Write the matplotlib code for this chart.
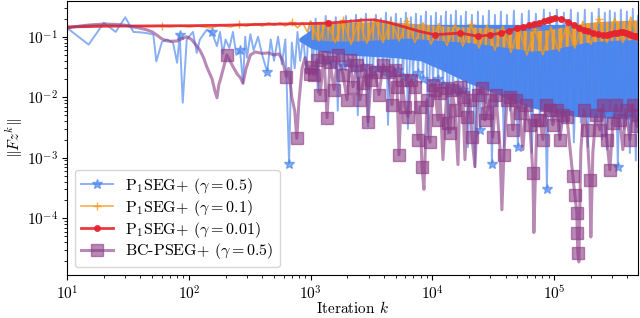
import numpy as np
import matplotlib
matplotlib.use('Agg')
import matplotlib.pyplot as plt

# computer-modern look, like the LaTeX figure
plt.rcParams['font.family'] = 'serif'
plt.rcParams['font.serif'] = ['cmr10']
plt.rcParams['mathtext.fontset'] = 'cm'
plt.rcParams['axes.formatter.use_mathtext'] = True

# ---- P1SEG+ (gamma = 0.5) ----
blue_k = [10, 15, 20, 25, 30, 35, 40, 45, 51, 54, 60, 66, 74, 80, 84, 89, 96, 108, 116, 123,
          140, 154, 170, 180, 190, 200, 215, 230, 245, 263, 278, 290, 300, 320, 340, 370, 400,
          440, 470, 500, 540, 580, 620, 665, 700, 740, 780, 820, 870, 920, 960,
          1000, 1039, 1100, 1143, 1210, 1255, 1330, 1380, 1460, 1515, 1610, 1670, 1770, 1840,
          1950, 2020, 2140, 2220, 2360, 2440, 2590, 2690, 2850, 2960, 3130, 3250, 3440, 3570,
          3780, 3930, 4160, 4320, 4570, 4750, 5020, 5220, 5510, 5730, 6070, 6300, 6670, 6930,
          7330, 7620, 8060, 8380, 8860, 9210, 9740, 10120, 10700, 11120, 11770, 12220, 12930,
          13440, 14210, 14770, 15620, 16230, 17170, 17840, 18870, 19610, 21140, 22380, 23690,
          24620, 26040, 27560, 29160, 30860, 32650, 34550, 36560, 38710, 40980, 43370, 46770,
          50420, 54380, 57560, 62060, 65680, 70830, 76460, 82440, 87250, 92370, 97750, 105440,
          111580, 120300, 127370, 137400, 145400, 156800, 166000, 179000, 189500, 204300,
          216300, 233200, 246900, 261300, 271300, 287200, 298000, 315600, 334100, 353700,
          374400, 396400, 419200, 443600, 469600, 488000]
blue_v = [0.139, 0.074, 0.17, 0.12, 0.21, 0.12, 0.118, 0.115, 0.108, 0.039, 0.082, 0.09, 0.08,
          0.037, 0.108, 0.0081, 0.09, 0.12, 0.054, 0.09, 0.13, 0.12, 0.07, 0.12, 0.052, 0.09,
          0.065, 0.12, 0.05, 0.061, 0.017, 0.1, 0.045, 0.11, 0.06, 0.1, 0.05, 0.026, 0.09, 0.04,
          0.1, 0.035, 0.09, 0.0008, 0.08, 0.03, 0.12, 0.04, 0.1, 0.025, 0.13,
          0.18, 0.03, 0.2, 0.012, 0.17, 0.035, 0.22, 0.04, 0.18, 0.035, 0.21, 0.006, 0.17, 0.033,
          0.22, 0.038, 0.19, 0.03, 0.23, 0.005, 0.2, 0.032, 0.24, 0.0033, 0.19, 0.028, 0.23,
          0.03, 0.2, 0.026, 0.25, 0.0035, 0.21, 0.025, 0.24, 0.028, 0.2, 0.022, 0.25, 0.003,
          0.21, 0.022, 0.24, 0.025, 0.22, 0.02, 0.26, 0.002, 0.22, 0.018, 0.25, 0.02, 0.22,
          0.016, 0.26, 0.0025, 0.23, 0.014, 0.27, 0.012, 0.22, 0.013, 0.26, 0.0015, 0.23, 0.0007,
          0.26, 0.0029, 0.22, 0.008, 0.27, 0.0008, 0.23, 0.007, 0.26, 0.0015, 0.23, 0.006, 0.27,
          0.0015, 0.24, 0.005, 0.27, 0.0012, 0.24, 0.0045, 0.28, 0.0003, 0.25, 0.004, 0.28,
          0.002, 0.25, 0.0038, 0.28, 0.0018, 0.25, 0.0038, 0.28, 0.0015, 0.25, 0.0035, 0.29,
          0.002, 0.25, 0.00136, 0.27, 0.0035, 0.25, 0.0007, 0.28, 0.003, 0.26, 0.0012, 0.29,
          0.0009, 0.22]
blue_star_k = [84, 154, 263, 440, 665, 1380, 1515, 1840, 2020, 2220, 2690, 3250, 3570, 3930,
               4750, 5220, 5730, 6930, 7620, 8380, 10120, 11120, 12220, 14770, 16230, 17840,
               24620, 30860, 50420, 87250, 334100]
# solid core of the blue noise band
blue_band_k = [800, 1000, 1300, 2000, 5000, 8000, 12000, 20000, 35000, 60000, 100000, 150000,
               488000]
blue_band_lo = [0.085, 0.065, 0.055, 0.05, 0.045, 0.04, 0.028, 0.017, 0.011, 0.007, 0.0055,
                0.0048, 0.0043]
blue_band_hi = [0.095, 0.13, 0.16, 0.16, 0.16, 0.16, 0.16, 0.16, 0.16, 0.16, 0.16, 0.16, 0.16]

# ---- P1SEG+ (gamma = 0.1) ----
orange_k = [10, 12, 15, 20, 25, 30, 40, 50, 60, 70, 85, 100, 120, 150, 180, 220, 260, 300,
            350, 400, 450, 500, 560, 620, 700, 780, 860, 940,
            1000, 1170, 1360, 1590, 1840, 2150, 2490, 2900, 3380, 3930, 4570, 5320, 6190, 7200,
            8380, 9740, 11330, 13180, 15330, 17840, 20760, 24140, 28080, 32650, 37990, 44180,
            51390, 59780, 69530, 80910, 94100, 109500, 127400, 148200, 172400, 200500, 233200,
            271300, 315600, 367200, 427100, 488000]
orange_v = [0.14, 0.15, 0.155, 0.158, 0.155, 0.15, 0.148, 0.147, 0.15, 0.145, 0.152, 0.145,
            0.15, 0.14, 0.155, 0.145, 0.16, 0.15, 0.165, 0.15, 0.17, 0.155, 0.17, 0.15, 0.175,
            0.14, 0.17, 0.12,
            0.18, 0.085, 0.185, 0.08, 0.19, 0.075, 0.19, 0.078, 0.2, 0.08, 0.19, 0.085, 0.18,
            0.08, 0.17, 0.075, 0.165, 0.072, 0.16, 0.07, 0.16, 0.065, 0.155, 0.06, 0.15, 0.055,
            0.14, 0.05, 0.135, 0.05, 0.145, 0.058, 0.16, 0.065, 0.18, 0.075, 0.2, 0.08, 0.2,
            0.08, 0.21, 0.085]
orange_band_k = [1000, 1500, 2500, 4000, 6000, 9000, 13000, 20000, 30000, 45000, 65000,
                 90000, 130000, 180000, 250000, 350000, 488000]
orange_band_lo = [0.09, 0.085, 0.085, 0.09, 0.095, 0.09, 0.085, 0.08, 0.072, 0.065, 0.058,
                  0.06, 0.07, 0.08, 0.085, 0.088, 0.09]
orange_band_hi = [0.17, 0.17, 0.175, 0.18, 0.17, 0.16, 0.15, 0.145, 0.14, 0.13, 0.125, 0.13,
                  0.15, 0.17, 0.18, 0.185, 0.19]

# ---- P1SEG+ (gamma = 0.01) ----
red_k = [10, 15, 20, 30, 50, 100, 200, 400, 700, 1000, 1400, 2000, 2700, 3300, 4200, 5700,
         7900, 10500, 17000, 23500, 30000, 36500, 43000, 49500, 56000, 62500, 69000, 75500,
         82000, 88500, 95000, 101500, 115000, 130000, 145000, 160000, 175000, 190000, 210000,
         230000, 250000, 270000, 290000, 310000, 330000, 350000, 370000, 390000, 410000,
         430000, 450000, 470000, 490000]
red_v = [0.145, 0.147, 0.149, 0.15, 0.151, 0.152, 0.155, 0.16, 0.163, 0.165, 0.168, 0.178,
         0.188, 0.19, 0.175, 0.148, 0.122, 0.108, 0.115, 0.102, 0.107, 0.115, 0.126, 0.138,
         0.147, 0.156, 0.163, 0.17, 0.18, 0.188, 0.197, 0.202, 0.2, 0.178, 0.158, 0.142, 0.13,
         0.122, 0.114, 0.109, 0.107, 0.108, 0.111, 0.114, 0.117, 0.12, 0.119, 0.115, 0.111,
         0.107, 0.104, 0.102, 0.1]

# ---- BC-PSEG+ (gamma = 0.5) ----
purple_k = [10, 12, 15, 20, 25, 30, 35, 40, 45, 50, 55, 60, 65, 70, 80, 90, 96, 105, 115, 123,
            132, 140, 155, 163, 170, 176, 182, 192, 205, 215, 230, 250, 265, 278, 295, 320,
            350, 400, 450, 500, 550, 590, 630, 660, 700, 740, 770, 800, 850, 900, 980,
            1000, 1066, 1128, 1195, 1288, 1364, 1443, 1557, 1679, 1845, 1990, 2106, 2229,
            2404, 2544, 2693, 2850, 2960, 3133, 3379, 3644, 3930, 4320, 4659, 4931, 5122,
            5319, 5628, 5957, 6305, 6673, 7197, 7617, 7911, 8214, 8531, 9030, 9557, 10114,
            10504, 11117, 11546, 12218, 13183, 13435, 13952, 14490, 15335, 16232, 16854,
            17838, 18520, 19235, 20358, 21141, 22380, 23685, 25545, 27036, 28077, 29719,
            31451, 33293, 35892, 37275, 38708, 40978, 43367, 45894, 48584, 52395, 55442,
            58680, 63295, 66983, 68272, 72245, 76456, 80909, 85650, 92366, 97748, 105440,
            111580, 118090, 127370, 134800, 142700, 148200, 153900, 155000, 156800, 159800,
            166000, 175600, 185900, 196800, 200500, 208200, 220400, 237700, 251600, 271300,
            287200, 304000, 321800, 347000, 367200, 388700, 419200, 443600, 478500, 488000]
purple_v = [0.14, 0.148, 0.156, 0.162, 0.16, 0.155, 0.145, 0.138, 0.13, 0.12, 0.105, 0.092,
            0.086, 0.084, 0.085, 0.095, 0.1, 0.09, 0.072, 0.06, 0.045, 0.032, 0.02, 0.013,
            0.0098, 0.016, 0.02, 0.03, 0.05, 0.042, 0.032, 0.024, 0.021, 0.017, 0.03, 0.05,
            0.056, 0.053, 0.054, 0.05, 0.052, 0.04, 0.022, 0.03, 0.01, 0.006, 0.0021, 0.008,
            0.03, 0.045, 0.024,
            0.032, 0.0236, 0.0417, 0.011, 0.0467, 0.0046, 0.0386, 0.0133, 0.0504, 0.0236,
            0.0091, 0.0417, 0.0149, 0.0344, 0.0091, 0.0174, 0.0285, 0.0039, 0.0195, 0.0264,
            0.011, 0.0344, 0.0264, 0.0075, 0.0285, 0.0149, 0.00112, 0.0195, 0.007, 0.0048,
            0.0195, 0.0149, 0.002, 0.007, 0.00071, 0.0003, 0.0091, 0.0018, 0.0161, 0.0133,
            0.0042, 0.0119, 0.00093, 0.0144, 0.0038, 0.0026, 0.0133, 0.0062, 0.00077, 0.0149,
            0.0102, 0.00093, 0.0048, 0.0091, 0.0022, 0.00071, 0.011, 0.0144, 0.0042, 0.0055,
            0.0091, 0.0022, 0.011, 0.0015, 0.000138, 0.00112, 0.0091, 0.0102, 0.0029, 0.0091,
            0.0055, 0.00136, 0.0075, 0.0035, 0.00056, 5.8e-5, 0.0042, 0.0042, 0.002, 0.0075,
            0.0062, 0.0035, 0.0062, 0.002, 0.0051, 0.0048, 0.0015, 0.00049, 0.00024, 0.000123,
            5.8e-5, 2.7e-5, 1.9e-5, 0.00136, 0.0062, 0.0029, 0.00043, 4.9e-5, 0.00121, 0.0051,
            0.0029, 0.0075, 0.002, 0.00063, 0.0038, 0.0075, 0.0042, 0.00136, 0.0062, 0.002,
            0.0075, 0.0033, 0.005]
# squares before k = 1000 and on the deep dips; from 1000 on most points carry one
purple_sq_k = [205, 630, 770, 980, 1364, 2960, 5319, 8214, 9557, 38708, 66983, 142700,
               148200, 153900, 155000, 156800, 196800, 287200]

c_blue = '#4A84EE'
c_orange = '#F39A1E'
c_red = '#E5242F'
c_purple = '#8B3A84'

fig, ax = plt.subplots(figsize=(6.4, 3.18), dpi=100)

ax.plot(blue_k, blue_v, color=c_blue, lw=1.4, alpha=0.65, marker='*', ms=7,
        markevery=[k in blue_star_k for k in blue_k], label=r'P$_1$SEG+ ($\gamma = 0.5$)')
ax.fill_between(blue_band_k, blue_band_lo, blue_band_hi, color='#4F87EE', lw=0)

ax.plot(orange_k, orange_v, color=c_orange, lw=1.2, alpha=0.8, marker='+', ms=6,
        markevery=8, label=r'P$_1$SEG+ ($\gamma = 0.1$)')
ax.fill_between(orange_band_k, orange_band_lo, orange_band_hi, color='#F4A02C', lw=0)

ax.plot(red_k, red_v, color=c_red, lw=2.0, alpha=0.9, marker='o', ms=4,
        markevery=[k == 1400 or k >= 10500 for k in red_k],
        label=r'P$_1$SEG+ ($\gamma = 0.01$)')

purple_marks = [(k in purple_sq_k) or (k >= 1000 and v > 0.0015)
                for k, v in zip(purple_k, purple_v)]
ax.plot(purple_k, purple_v, color=c_purple, lw=2.2, alpha=0.6, marker='s', ms=8,
        markevery=purple_marks, label=r'BC-PSEG+ ($\gamma = 0.5$)')

ax.set_xscale('log')
ax.set_yscale('log')
ax.set_xlim(10, 4.9e5)
ax.set_ylim(1.15e-5, 0.39)
ax.set_xlabel(r'Iteration $k$', fontsize=11, labelpad=-2)
ax.set_ylabel(r'$\|Fz^k\|$', fontsize=11, labelpad=1)
ax.tick_params(labelsize=11, pad=3)
ax.legend(loc='lower left', fontsize=11.5, labelspacing=0.12, borderpad=0.35,
          framealpha=0.8)

fig.subplots_adjust(left=0.105, right=0.997, top=0.997, bottom=0.135)
fig.savefig('out.png', dpi=100)
